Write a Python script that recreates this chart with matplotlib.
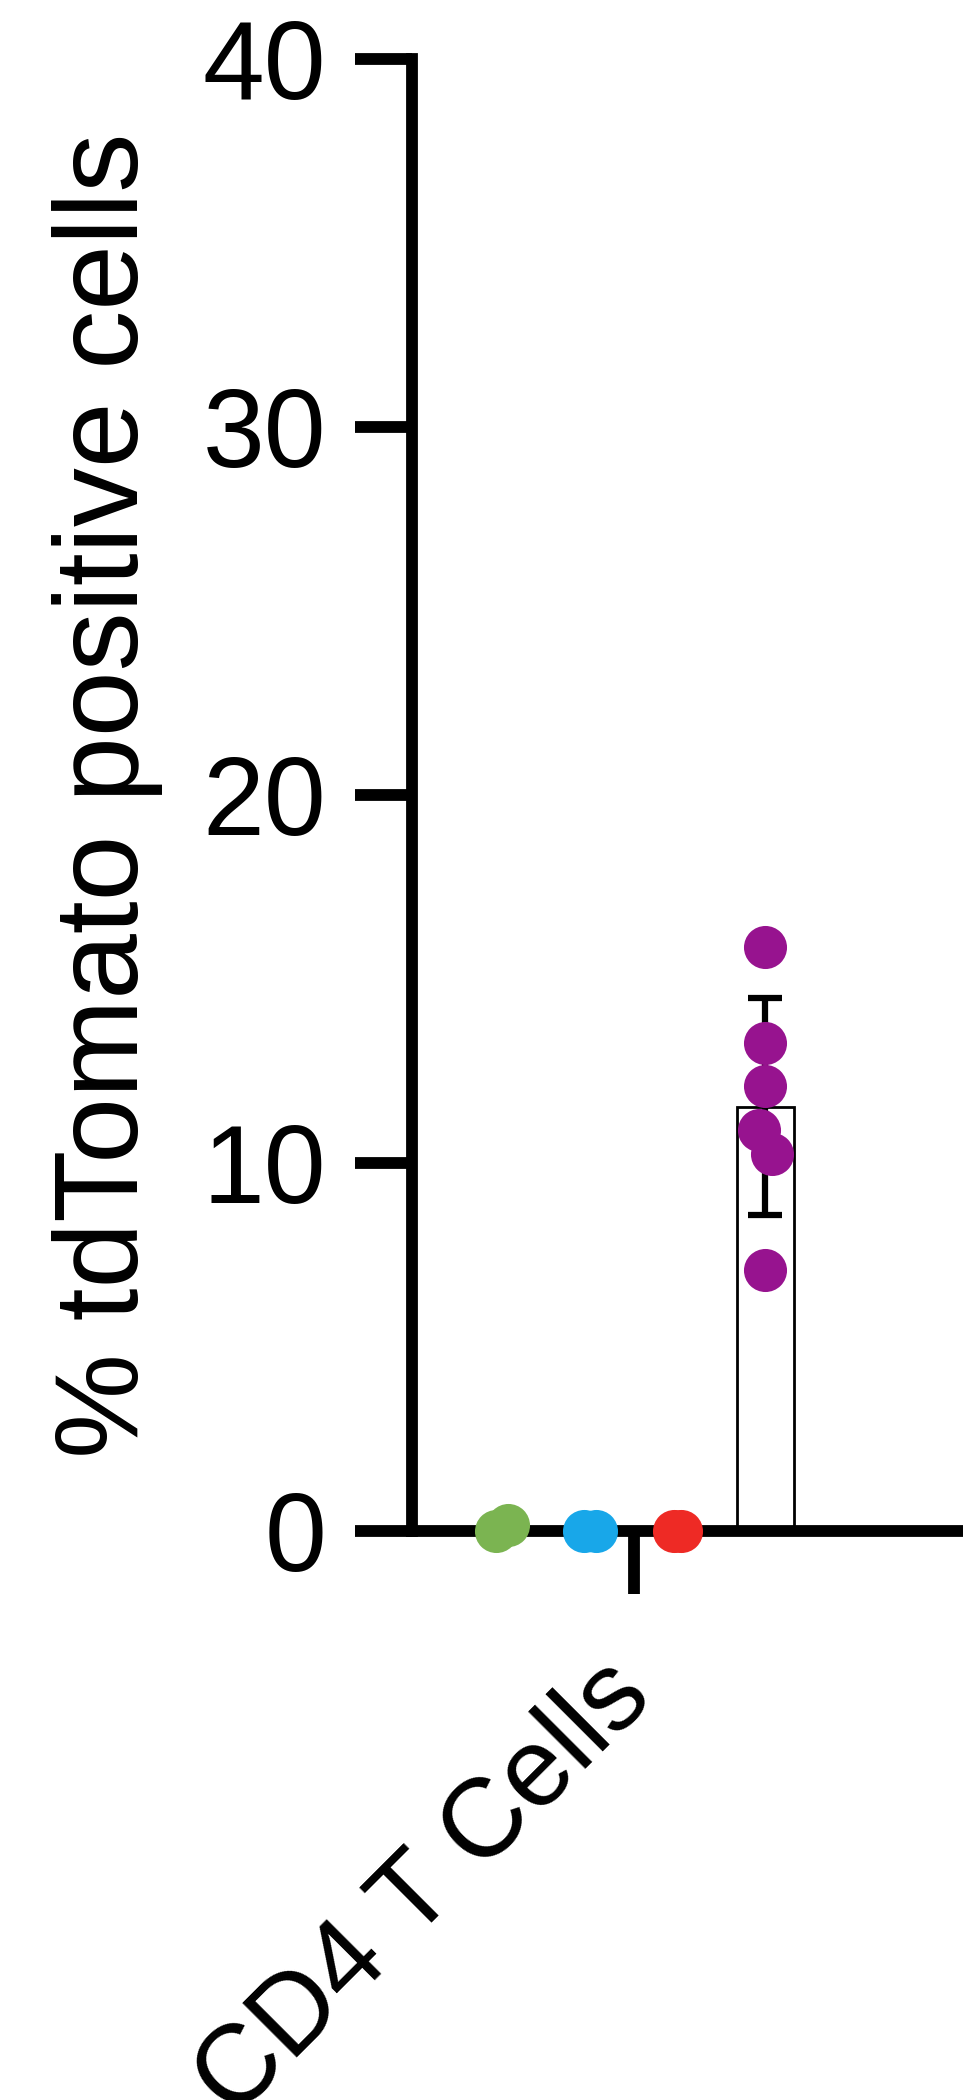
import numpy as np
import matplotlib.pyplot as plt
from matplotlib.transforms import ScaledTranslation

plt.rcParams['font.family'] = ['Liberation Sans', 'DejaVu Sans']

# one category, four sub-groups
category = 'CD4 T Cells'
colors = ['#7BB451', '#18A7E9', '#EE2A25', '#97138F']

green = [0.0, 0.15]
blue = [0.0, 0.0]
red = [0.0, 0.0]
purple = [15.87, 13.26, 12.08, 10.88, 10.23, 7.08]

bar_mean = [0.05, 0.0, 0.0, 11.53]
bar_sd = [0.0, 0.0, 0.0, 2.95]

yticks = [0, 10, 20, 30, 40]

# small horizontal spread of the dots
spread = [[-0.07, 0.07], [-0.07, 0.07], [-0.04, 0.04],
          [0.0, 0.0, 0.0, -0.07, 0.08, 0.0]]

fig = plt.figure(figsize=(9.63, 21), dpi=100)
ax = fig.add_axes([0.428, 0.271, 0.572, 0.701])

pos = np.arange(4)
ax.bar(pos, bar_mean, width=0.65, color='white', edgecolor='black',
       linewidth=2, zorder=1)
ax.errorbar(pos[3:], bar_mean[3:], yerr=bar_sd[3:], fmt='none', ecolor='black',
            elinewidth=4.5, capsize=12, capthick=4.5, zorder=2)

for i, vals in enumerate([green, blue, red, purple]):
    xs = pos[i] + np.array(spread[i])
    ax.plot(xs, vals, 'o', ms=31, mec='none', color=colors[i],
            zorder=5, clip_on=False)

ax.set_xlim(-1.026, 5.257)
ax.set_ylim(0, 40)
ax.set_yticks(yticks)
ax.set_yticklabels([str(t) for t in yticks], fontsize=80)
ax.set_xticks([1.5])

for s in ['top', 'right']:
    ax.spines[s].set_visible(False)
for s in ['left', 'bottom']:
    ax.spines[s].set_linewidth(8.5)
    ax.spines[s].set_zorder(3)

ax.tick_params(axis='y', length=41, width=8.5, pad=21)
ax.tick_params(axis='x', length=45, width=8.5, pad=20)

ax.set_xticklabels([category], fontsize=80, rotation=45,
                   ha='right', va='top', rotation_mode='anchor')
# nudge the slanted label down and left (after tick_params, which resets it)
shift = ScaledTranslation(-0.36, -0.21, fig.dpi_scale_trans)
for lbl in ax.get_xticklabels():
    lbl.set_transform(lbl.get_transform() + shift)

ax.set_ylabel('% tdTomato positive cells', fontsize=85)
ax.yaxis.set_label_coords(-0.452, 0.5)

fig.savefig('out.png', dpi=100)
